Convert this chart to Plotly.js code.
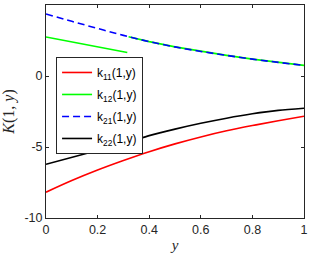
<!DOCTYPE html>
<html>
<head>
<meta charset="utf-8">
<script src="https://cdn.plot.ly/plotly-3.0.1.min.js"></script>
<style>html,body{margin:0;padding:0;background:#fff;}#chart{width:311px;height:255px;}</style>
</head>
<body>
<div id="chart"></div>
<script>
// data
var yGrid = [0, 0.1, 0.2, 0.3, 0.4, 0.5, 0.6, 0.7, 0.8, 0.9, 1.0];
var k11 = [-8.18, -7.36, -6.62, -5.95, -5.33, -4.78, -4.29, -3.86, -3.49, -3.15, -2.83];
var k21 = [4.37, 3.85, 3.35, 2.86, 2.42, 2.05, 1.73, 1.45, 1.19, 0.96, 0.75];
var k12X = [0, 0.315, null, 0.32, 0.4, 0.5, 0.6, 0.7, 0.8, 0.9, 1.0];
var k12 = [2.75, 1.65, null, 2.77, 2.42, 2.05, 1.73, 1.45, 1.19, 0.96, 0.75];
var k22X = [0, 0.163, 0.326, 0.4, 0.5, 0.6, 0.7, 0.8, 0.9, 1.0];
var k22 = [-6.22, -5.42, -4.62, -4.20, -3.74, -3.33, -2.97, -2.66, -2.42, -2.27];
var xTicks = [0, 0.2, 0.4, 0.6, 0.8, 1];
var yTicks = [-10, -5, 0, 5];

var lw = 1.6;
var traces = [
  {x: yGrid, y: k11, mode: 'lines', name: 'k<sub>11</sub>(1,y)', legendgroup: 'a', line: {color: '#ff0000', width: lw, shape: 'spline'}},
  {x: k12X, y: k12, mode: 'lines', name: 'k<sub>12</sub>(1,y)', legendgroup: 'b', connectgaps: false, line: {color: '#00ff00', width: lw}},
  {x: yGrid, y: k21, mode: 'lines', name: 'k<sub>21</sub>(1,y)', legendgroup: 'c', line: {color: '#0000ff', width: lw, dash: '7px,4px', shape: 'spline'}},
  {x: k22X, y: k22, mode: 'lines', name: 'k<sub>22</sub>(1,y)', legendgroup: 'd', line: {color: '#000000', width: lw, shape: 'spline', smoothing: 0.8}}
];

var axisCommon = {
  showgrid: false, zeroline: false, showline: true, mirror: 'ticks',
  linecolor: '#262626', linewidth: 1, ticks: 'inside', ticklen: 3, tickwidth: 1,
  tickcolor: '#262626', tickfont: {family: 'Liberation Sans, Arial, sans-serif', size: 12.5, color: '#262626'}
};

var layout = {
  width: 311, height: 255,
  margin: {l: 46, r: 7, t: 5, b: 37},
  paper_bgcolor: '#fff', plot_bgcolor: '#fff',
  showlegend: true,
  xaxis: Object.assign({}, axisCommon, {
    range: [0, 1], tickvals: xTicks, ticktext: xTicks.map(String),
    title: {text: '<i>y</i>', font: {family: 'Liberation Serif, DejaVu Serif, serif', size: 15, color: '#262626'}, standoff: 3}
  }),
  yaxis: Object.assign({}, axisCommon, {
    range: [-10, 5], tickvals: yTicks, ticktext: yTicks.map(String),
    title: {text: '<i>K</i>(1, <i>y</i>)', font: {family: 'Liberation Serif, DejaVu Serif, serif', size: 16, color: '#262626'}, standoff: 5}
  }),
  legend: {
    x: 0.039, y: 0.756, xanchor: 'left', yanchor: 'top',
    bgcolor: '#fff', bordercolor: '#262626', borderwidth: 1,
    font: {family: 'Liberation Sans, Arial, sans-serif', size: 12, color: '#000'},
    tracegroupgap: 3
  }
};

Plotly.newPlot('chart', traces, layout, {displayModeBar: false, staticPlot: true});
</script>
</body>
</html>
